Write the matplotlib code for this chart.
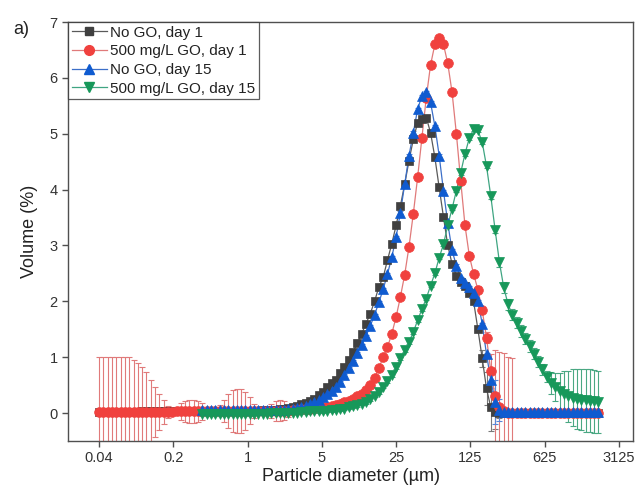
import numpy as np
import matplotlib
matplotlib.use('Agg')
import matplotlib.pyplot as plt
from matplotlib.ticker import FixedLocator, FixedFormatter, NullLocator

plt.rcParams['font.family'] = ['Liberation Sans', 'DejaVu Sans']

# Instrument size channels (µm): 117 channels 0.04-2000 µm; day-15 runs start at 0.375 µm
diam_all = np.geomspace(0.04, 2000, 117)
diam_d15 = diam_all[24:]

labels = ['No GO, day 1', '500 mg/L GO, day 1', 'No GO, day 15', '500 mg/L GO, day 15']

nogo_d1 = ([0.02] * 10 + [0.03] * 24 + [0.04] * 4 + [0.05] * 3 +
           [0.06, 0.07, 0.08, 0.09,
            0.11, 0.13, 0.16, 0.18, 0.22, 0.26, 0.32, 0.38, 0.46, 0.53,
            0.60, 0.71, 0.83, 0.95, 1.09, 1.25, 1.42, 1.60, 1.78, 2.00,
            2.26, 2.43, 2.74, 3.03, 3.36, 3.71, 4.10, 4.52, 4.90, 5.20,
            5.27, 5.29, 5.02, 4.58, 4.04, 3.51, 3.00, 2.67, 2.46, 2.35,
            2.27, 2.15, 2.00, 1.50, 0.98, 0.44, 0.10, 0.02, 0.01, 0.00] +
           [0.0] * 22)
nogo_d1_err = [0.01] * 89 + [0.15, 0.30, 0.42, 0.30, 0.10] + [0.0] * 23

go_d1 = ([0.02] * 18 + [0.03] * 9 + [0.04] * 18 +
         [0.05, 0.06, 0.07, 0.07, 0.08, 0.09, 0.10, 0.10, 0.11, 0.13,
          0.15, 0.17, 0.19, 0.22, 0.26, 0.30, 0.35, 0.41, 0.50, 0.62,
          0.80, 1.00, 1.18, 1.42, 1.72, 2.08, 2.48, 2.98, 3.57, 4.22,
          4.93, 5.64, 6.23, 6.60, 6.71, 6.60, 6.26, 5.74, 5.00, 4.16,
          3.36, 2.82, 2.49, 2.21, 1.84, 1.35, 0.75, 0.30, 0.10, 0.03] +
         [0.0] * 22)
go_d1_err = ([0.98] * 8 +
             [0.93, 0.88, 0.81, 0.71, 0.58, 0.45, 0.33, 0.21, 0.10, 0.04,
              0.07, 0.15, 0.19, 0.20, 0.20, 0.19, 0.15, 0.08, 0.03, 0.02,
              0.10, 0.20, 0.30, 0.37, 0.39, 0.39, 0.34, 0.24, 0.13, 0.05,
              0.03, 0.06, 0.13, 0.18, 0.19, 0.17, 0.11, 0.05, 0.03, 0.03] +
             [0.03] * 38 +
             [0.06, 0.06, 0.06, 0.05, 0.10, 0.30, 0.82, 1.00, 1.04, 1.00, 0.98] +
             [0.0] * 20)

nogo_d15 = ([0.05] * 17 + [0.06, 0.06, 0.06,
            0.07, 0.08, 0.09, 0.11, 0.13, 0.16, 0.19, 0.23, 0.28, 0.34,
            0.40, 0.47, 0.56, 0.68, 0.80, 0.93, 1.07, 1.22, 1.38, 1.56,
            1.76, 1.98, 2.22, 2.49, 2.79, 3.15, 3.59, 4.10, 4.61, 5.02,
            5.44, 5.68, 5.74, 5.56, 5.14, 4.61, 3.98, 3.40, 2.91, 2.64,
            2.42, 2.32, 2.25, 2.15, 2.00, 1.60, 1.05, 0.59, 0.20, 0.05] +
            [0.02] * 23)
nogo_d15_err = [0.02] * 67 + [0.20, 0.40, 0.20] + [0.01] * 23

go_d15 = ([-0.02] * 12 + [-0.01] * 4 + [0.0] * 5 +
          [0.01, 0.01, 0.02, 0.02, 0.03, 0.03, 0.035, 0.04, 0.045,
           0.05, 0.06, 0.07, 0.08, 0.10, 0.12, 0.14, 0.17, 0.20, 0.25,
           0.31, 0.38, 0.47, 0.57, 0.68, 0.82, 0.98, 1.12, 1.27, 1.45,
           1.66, 1.86, 2.05, 2.28, 2.50, 2.78, 3.02, 3.36, 3.66, 3.98,
           4.30, 4.64, 4.92, 5.08, 5.06, 4.85, 4.42, 3.88, 3.28, 2.70,
           2.25, 1.95, 1.76, 1.62, 1.47, 1.33, 1.20, 1.06, 0.92, 0.78,
           0.65, 0.54, 0.46, 0.39, 0.34, 0.30, 0.27, 0.25, 0.24, 0.23,
           0.22, 0.21, 0.20])
go_d15_err = ([0.03] * 67 + [0.05, 0.06, 0.08] + [0.10] * 11 +
              [0.20, 0.25, 0.33, 0.41, 0.46, 0.51, 0.53, 0.55, 0.56, 0.56, 0.56, 0.55])

x_ticks = [0.04, 0.2, 1, 5, 25, 125, 625, 3125]
x_tick_labels = ['0.04', '0.2', '1', '5', '25', '125', '625', '3125']
y_ticks = [0, 1, 2, 3, 4, 5, 6, 7]

fig = plt.figure(figsize=(6.38, 4.93), dpi=100)
ax = fig.add_axes([68 / 638, 1 - 441 / 493, (633 - 68) / 638, (441 - 22) / 493])

series = [
    (diam_all, nogo_d1, nogo_d1_err, 's', 6.0, '#404040', '#5a5a5a', '#7a7a7a'),
    (diam_all, go_d1, go_d1_err, 'o', 7.0, '#F0413E', '#E07a7a', '#E07a7a'),
    (diam_d15, nogo_d15, nogo_d15_err, '^', 7.2, '#0F5BD0', '#3c6fc8', '#5a86d6'),
    (diam_d15, go_d15, go_d15_err, 'v', 7.2, '#17985A', '#3fa582', '#4aa883'),
]
for (x, y, e, m, ms, mc, lc, ec), lab in zip(series, labels):
    ax.errorbar(x, y, yerr=e, fmt='none', ecolor=ec, elinewidth=0.8,
                capsize=2.5, capthick=0.8, zorder=2)
    ax.plot(x, y, color=lc, lw=0.9, zorder=3)
    ax.plot(x, y, linestyle='none', marker=m, ms=ms, mfc=mc, mec=mc,
            mew=0.5, zorder=4)
    ax.plot([], [], color=lc, lw=0.9, marker=m, ms=ms, mfc=mc, mec=mc,
            label=lab)

ax.set_xscale('log')
ax.set_xlim(0.0204, 4230)
ax.set_ylim(-0.5, 7)
ax.xaxis.set_major_locator(FixedLocator(x_ticks))
ax.xaxis.set_major_formatter(FixedFormatter(x_tick_labels))
ax.xaxis.set_minor_locator(NullLocator())
ax.set_yticks(y_ticks)

for sp in ax.spines.values():
    sp.set_color('#505050')
    sp.set_linewidth(1.0)
ax.tick_params(axis='both', direction='out', length=4, width=1.0,
               color='#505050', labelsize=10.5, labelcolor='#333333')
ax.tick_params(top=False, right=False)

ax.set_xlabel('Particle diameter (µm)', fontsize=13, color='#222222', labelpad=2)
ax.set_ylabel('Volume (%)', fontsize=13, color='#222222', labelpad=8)

leg = ax.legend(loc='upper left', bbox_to_anchor=(0, 1), borderaxespad=0,
                fontsize=11, frameon=True, fancybox=False, handlelength=2.3,
                handletextpad=0.2, labelspacing=0.3, borderpad=0.25)
leg.get_frame().set_edgecolor('#333333')
leg.get_frame().set_linewidth(0.9)
for t in leg.get_texts():
    t.set_color('#222222')

fig.text(13 / 638, 1 - 29 / 493, 'a)', fontsize=13, va='center', ha='left',
         color='#222222')

fig.savefig('out.png', dpi=100)
